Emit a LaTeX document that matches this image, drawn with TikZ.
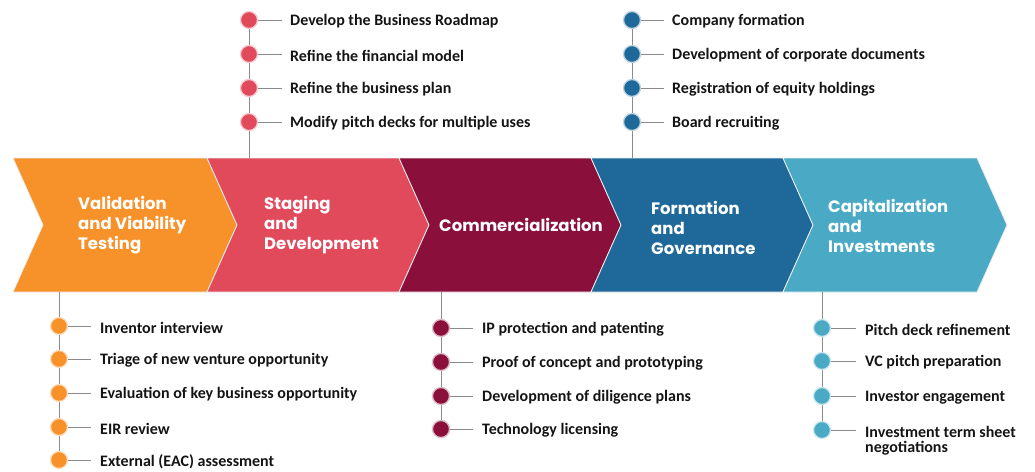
\documentclass[tikz,border=0pt]{standalone}
\usepackage{fontspec}
\newfontfamily\headfont{Poppins}
\newfontfamily\itemfont{Carlito}
\definecolor{corange}{HTML}{F7922B}
\definecolor{cred}{HTML}{E04A5B}
\definecolor{cmaroon}{HTML}{8A0F3B}
\definecolor{cblue}{HTML}{1F699A}
\definecolor{clight}{HTML}{4AAAC6}
\definecolor{cgray}{HTML}{8A8A8A}
\definecolor{ctext}{HTML}{141414}
\tikzset{
  chev/.style={draw=white!85!gray, line width=0.8pt, line join=miter},
  head/.style={anchor=west, inner sep=0pt, align=left, text=white,
    font=\headfont\bfseries\fontsize{16.5}{20}\selectfont},
  item/.style={anchor=west, yshift=-1.5pt, inner sep=0pt, align=left, text=ctext,
    font=\itemfont\bfseries\fontsize{16}{17}\selectfont},
  dot/.style={circle, minimum size=17pt, inner sep=0pt, line width=1.3pt},
  tick/.style={draw=cgray, line width=0.8pt},
}
\begin{document}
\begin{tikzpicture}[x=1pt,y=-1pt]
\useasboundingbox (0,0) rectangle (1035,471);
% chevrons
\def\T{158}\def\B{292}\def\M{225}\def\d{30}
\foreach \L/\R/\c in {13/207/corange, 207/399/cred, 399/591/cmaroon, 591/783/cblue, 783/977/clight}{
  \path[chev, fill=\c] (\L,\T) -- (\R,\T) -- (\R+\d,\M) -- (\R,\B) -- (\L,\B) -- (\L+\d,\M) -- cycle;
}
% headings
\node[head] (h1) at (78,225) {Validation\\and Viability\\Testing};
\node[head] (h2) at (264,225) {Staging\\and\\Development};
\node[head] (h3) at (439,225) {Commercialization};
\node[head] (h4) at (651,228) {Formation\\and\\Governance};
\node[head] (h5) at (828,226) {Capitalization\\and\\Investments};
% band anchors
\coordinate (b2) at (249,\T);
\coordinate (b4) at (632,\T);
\coordinate (b1) at (59,\B);
\coordinate (b3) at (441,\B);
\coordinate (b5) at (822,\B);

% ---- Staging list (top)
\draw[tick] (249,20) -- (b2);
\foreach \y/\t [count=\i] in {20/Develop the Business Roadmap, 54/Refine the financial model, 88/Refine the business plan, 122/Modify pitch decks for multiple uses}{
  \node[dot, fill=cred, draw=cred!30] (s\i) at (249,\y) {};
  \node[item] (st\i) at (290,\y) {\t};
  \draw[tick] (s\i.east) -- (282,\y);
}
% ---- Formation list (top)
\draw[tick] (632,20) -- (b4);
\foreach \y/\t [count=\i] in {20/Company formation, 54/Development of corporate documents, 88/Registration of equity holdings, 122/Board recruiting}{
  \node[dot, fill=cblue, draw=cblue!30] (f\i) at (632,\y) {};
  \node[item] (ft\i) at (672,\y) {\t};
  \draw[tick] (f\i.east) -- (664,\y);
}
% ---- Validation list (bottom)
\draw[tick] (b1) -- (59,460);
\foreach \y/\t [count=\i] in {326/Inventor interview, 359/Triage of new venture opportunity, 393/Evaluation of key business opportunity, 427/EIR review, 460/External (EAC) assessment}{
  \node[dot, fill=corange, draw=corange!30] (v\i) at (59,\y) {};
  \node[item] (vt\i) at (100,\y) {\t};
  \draw[tick] (v\i.east) -- (91,\y);
}
% ---- Commercialization list (bottom)
\draw[tick] (b3) -- (441,429);
\foreach \y/\t [count=\i] in {328/IP protection and patenting, 362/Proof of concept and prototyping, 396/Development of diligence plans, 429/Technology licensing}{
  \node[dot, fill=cmaroon, draw=cmaroon!30] (c\i) at (441,\y) {};
  \node[item] (ct\i) at (482,\y) {\t};
  \draw[tick] (c\i.east) -- (473,\y);
}
% ---- Capitalization list (bottom)
\draw[tick] (b5) -- (822,430);
\foreach \y/\t [count=\i] in {328/Pitch deck refinement, 361/VC pitch preparation, 396/Investor engagement, 430/Investment term sheet}{
  \node[dot, fill=clight, draw=clight!30] (k\i) at (822,\y) {};
  \node[item] (kt\i) at (865,\y) {\t};
  \draw[tick] (k\i.east) -- (856,\y);
}
\node[item] (kt5) at (865,447) {negotiations};
\end{tikzpicture}
\end{document}
